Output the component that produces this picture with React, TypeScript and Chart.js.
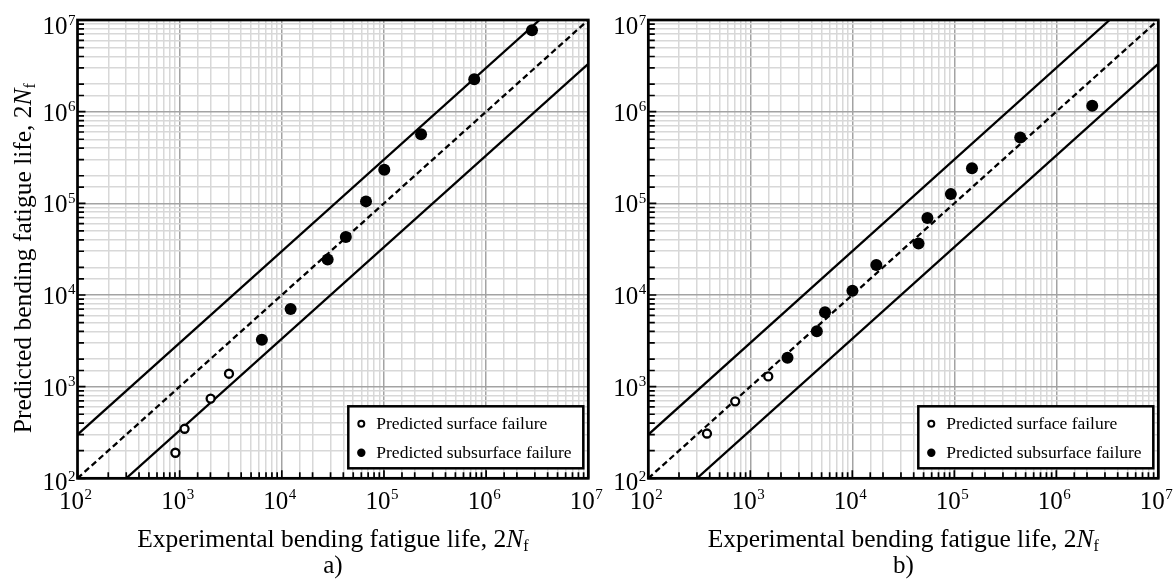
import React, { useEffect, useRef } from "react";
import { Chart, registerables } from "chart.js";

Chart.register(...registerables);

// ---------- axis / reference lines ----------
const AXIS_MIN = 1e2;
const AXIS_MAX = 1e7;
const BAND_FACTOR = 3;
const DECADES = [1e2, 1e3, 1e4, 1e5, 1e6, 1e7];
const DECADE_EXPONENTS = ["2", "3", "4", "5", "6", "7"];

// ---------- text ----------
const SERIES_LABELS = ["Predicted surface failure", "Predicted subsurface failure"];
const X_TITLE_MAIN = "Experimental bending fatigue life, 2";
const Y_TITLE_MAIN = "Predicted bending fatigue life, 2";
const TITLE_ITALIC = "N";
const TITLE_SUB = "f";
const PANEL_TAGS = ["a)", "b)"];

// ---------- panel a) data ----------
const A_SURFACE_X = [908, 1117, 2010, 3040];
const A_SURFACE_Y = [190, 347, 741, 1383];
const A_SUB_X = [6380, 12190, 28100, 42300, 66700, 100700, 230700, 765000, 2810000];
const A_SUB_Y = [3243, 7050, 24400, 43000, 105000, 232000, 566000, 2260000, 7730000];

// ---------- panel b) data ----------
const B_SURFACE_X = [376, 711, 1500];
const B_SURFACE_Y = [308, 692, 1294];
const B_SUB_X = [2316, 4490, 5400, 10030, 17200, 44600, 54500, 92500, 149000, 443000, 2250000];
const B_SUB_Y = [2066, 4030, 6490, 11140, 21200, 36500, 69200, 126000, 242000, 521000, 1160000];

const FONT = '"Liberation Serif", "Times New Roman", Times, serif';
const MAJOR_GRID = "#a3a3a3";
const MINOR_GRID = "#d8d8d8";

const isDecade = (v: number) => Math.abs(Math.log10(v) - Math.round(Math.log10(v))) < 1e-9;
const pts = (xs: number[], ys: number[]) => xs.map((x, i) => ({ x, y: ys[i] }));

function drawPow(ctx: CanvasRenderingContext2D, exp: string, x: number, baseline: number, align: "center" | "right") {
  ctx.font = `25px ${FONT}`;
  const wb = ctx.measureText("10").width;
  ctx.font = `15px ${FONT}`;
  const we = ctx.measureText(exp).width;
  const total = wb + we + 0.5;
  const left = align === "center" ? x - total / 2 : x - total;
  ctx.textAlign = "left";
  ctx.textBaseline = "alphabetic";
  ctx.font = `25px ${FONT}`;
  ctx.fillText("10", left, baseline);
  ctx.font = `15px ${FONT}`;
  ctx.fillText(exp, left + wb + 0.5, baseline - 9.5);
}

function drawTitle(ctx: CanvasRenderingContext2D, main: string, cx: number, baseline: number) {
  ctx.textAlign = "left";
  ctx.textBaseline = "alphabetic";
  const fMain = `25.5px ${FONT}`;
  const fIt = `italic 25.5px ${FONT}`;
  const fSub = `16px ${FONT}`;
  ctx.font = fMain;
  const w1 = ctx.measureText(main).width;
  ctx.font = fIt;
  const w2 = ctx.measureText(TITLE_ITALIC).width;
  ctx.font = fSub;
  const w3 = ctx.measureText(TITLE_SUB).width;
  const left = cx - (w1 + w2 + w3) / 2;
  ctx.font = fMain;
  ctx.fillText(main, left, baseline);
  ctx.font = fIt;
  ctx.fillText(TITLE_ITALIC, left + w1, baseline);
  ctx.font = fSub;
  ctx.fillText(TITLE_SUB, left + w1 + w2, baseline + 4);
}

function makeDecor(showYTitle: boolean, tag: string) {
  return {
    id: "decor",
    afterDatasetsDraw(chart: any) {
      const { ctx, chartArea: a, scales } = chart;
      const sx = scales.x;
      const sy = scales.y;
      ctx.save();
      ctx.strokeStyle = "#000";
      ctx.fillStyle = "#000";
      // inner ticks
      ctx.lineWidth = 1.7;
      ctx.beginPath();
      for (const t of sx.ticks) {
        const px = sx.getPixelForValue(t.value);
        const len = isDecade(t.value) ? 8 : 6;
        ctx.moveTo(px, a.bottom);
        ctx.lineTo(px, a.bottom - len);
      }
      for (const t of sy.ticks) {
        const py = sy.getPixelForValue(t.value);
        const len = isDecade(t.value) ? 8 : 6.5;
        ctx.moveTo(a.left, py);
        ctx.lineTo(a.left + len, py);
      }
      ctx.stroke();
      // frame
      ctx.lineWidth = 2.7;
      ctx.strokeRect(a.left, a.top, a.right - a.left, a.bottom - a.top);

      // legend
      const ds = chart.data.datasets;
      const lw = 235;
      const lh = 62;
      const lx = a.right - 5 - lw;
      const ly = a.bottom - 10 - lh;
      ctx.fillStyle = "#fff";
      ctx.fillRect(lx, ly, lw, lh);
      ctx.lineWidth = 2.5;
      ctx.strokeStyle = "#000";
      ctx.strokeRect(lx, ly, lw, lh);
      const rows = [ds[0], ds[1]];
      rows.forEach((d: any, i: number) => {
        const cy = ly + 17.5 + i * 29;
        ctx.beginPath();
        if (i === 0) {
          ctx.arc(lx + 13, cy, 3, 0, Math.PI * 2);
          ctx.fillStyle = "#fff";
          ctx.fill();
          ctx.lineWidth = 2;
          ctx.strokeStyle = "#000";
          ctx.stroke();
        } else {
          ctx.arc(lx + 13, cy, 4.2, 0, Math.PI * 2);
          ctx.fillStyle = "#000";
          ctx.fill();
        }
        ctx.fillStyle = "#000";
        ctx.font = `17.5px ${FONT}`;
        ctx.textAlign = "left";
        ctx.textBaseline = "alphabetic";
        ctx.fillText(d.label, lx + 28, cy + 5.5);
      });

      // tick labels
      ctx.fillStyle = "#000";
      DECADES.forEach((v, i) => {
        const px = sx.getPixelForValue(v);
        drawPow(ctx, DECADE_EXPONENTS[i], px - 2, a.bottom + 30.5, "center");
        const py = sy.getPixelForValue(v);
        const off = i === DECADES.length - 1 ? 14 : i === 0 ? 12 : 9;
        drawPow(ctx, DECADE_EXPONENTS[i], a.left - 2, py + off, "right");
      });

      // titles
      const cx = (a.left + a.right) / 2;
      drawTitle(ctx, X_TITLE_MAIN, cx, 547);
      if (showYTitle) {
        ctx.save();
        ctx.translate(31, (a.top + a.bottom) / 2 + 9);
        ctx.rotate(-Math.PI / 2);
        drawTitle(ctx, Y_TITLE_MAIN, 0, 0);
        ctx.restore();
      }
      ctx.font = `25px ${FONT}`;
      ctx.textAlign = "center";
      ctx.fillStyle = "#000";
      ctx.fillText(tag, cx, 573);
      ctx.restore();
    },
  };
}

function buildConfig(
  surfX: number[],
  surfY: number[],
  subX: number[],
  subY: number[],
  padding: any,
  showYTitle: boolean,
  tag: string
): any {
  const lineDs = (data: any[], dash: number[]) => ({
    type: "scatter",
    label: "",
    data,
    showLine: true,
    borderColor: "#000",
    borderWidth: 2.3,
    borderDash: dash,
    pointRadius: 0,
    fill: false,
  });
  const gridColor = (c: any) => (c.tick && isDecade(c.tick.value) ? MAJOR_GRID : MINOR_GRID);
  return {
    type: "scatter",
    data: {
      datasets: [
        {
          label: SERIES_LABELS[0],
          data: pts(surfX, surfY),
          pointRadius: 4,
          pointBorderWidth: 2.3,
          backgroundColor: "#fff",
          borderColor: "#000",
          order: 0,
        },
        {
          label: SERIES_LABELS[1],
          data: pts(subX, subY),
          pointRadius: 6,
          pointBorderWidth: 0,
          backgroundColor: "#000",
          borderColor: "#000",
          order: 1,
        },
        { ...lineDs([{ x: AXIS_MIN, y: AXIS_MIN }, { x: AXIS_MAX, y: AXIS_MAX }], [6, 3.5]), order: 2 },
        { ...lineDs([{ x: AXIS_MIN, y: AXIS_MIN * BAND_FACTOR }, { x: AXIS_MAX / BAND_FACTOR, y: AXIS_MAX }], []), order: 3 },
        { ...lineDs([{ x: AXIS_MIN * BAND_FACTOR, y: AXIS_MIN }, { x: AXIS_MAX, y: AXIS_MAX / BAND_FACTOR }], []), order: 4 },
      ],
    },
    options: {
      animation: false,
      responsive: false,
      devicePixelRatio: 1,
      layout: { padding },
      plugins: { legend: { display: false }, tooltip: { enabled: false } },
      scales: {
        x: {
          type: "logarithmic",
          min: AXIS_MIN,
          max: AXIS_MAX,
          ticks: { display: false, autoSkip: false },
          grid: { drawTicks: false, color: gridColor, lineWidth: 1.5 },
          border: { display: false },
          afterFit: (s: any) => {
            s.height = 0;
          },
        },
        y: {
          type: "logarithmic",
          min: AXIS_MIN,
          max: AXIS_MAX,
          ticks: { display: false, autoSkip: false },
          grid: { drawTicks: false, color: gridColor, lineWidth: 1.5 },
          border: { display: false },
          afterFit: (s: any) => {
            s.width = 0;
          },
        },
      },
    },
    plugins: [makeDecor(showYTitle, tag)],
  };
}

function Panel(props: {
  width: number;
  left: number;
  surfX: number[];
  surfY: number[];
  subX: number[];
  subY: number[];
  padding: any;
  showYTitle: boolean;
  tag: string;
}) {
  const ref = useRef<HTMLCanvasElement | null>(null);
  useEffect(() => {
    if (!ref.current) return;
    const chart = new Chart(
      ref.current,
      buildConfig(props.surfX, props.surfY, props.subX, props.subY, props.padding, props.showYTitle, props.tag)
    );
    return () => chart.destroy();
  }, []);
  return (
    <canvas
      ref={ref}
      width={props.width}
      height={579}
      style={{ position: "absolute", left: props.left, top: 0, width: props.width, height: 579 }}
    />
  );
}

export default function App() {
  return (
    <div style={{ position: "absolute", left: 0, top: 0, width: 1173, height: 579, background: "#fff", overflow: "hidden" }}>
      <Panel
        width={610}
        left={0}
        surfX={A_SURFACE_X}
        surfY={A_SURFACE_Y}
        subX={A_SUB_X}
        subY={A_SUB_Y}
        padding={{ left: 77.5, right: 21.7, top: 20, bottom: 100.7 }}
        showYTitle={true}
        tag={PANEL_TAGS[0]}
      />
      <Panel
        width={578}
        left={595}
        surfX={B_SURFACE_X}
        surfY={B_SURFACE_Y}
        subX={B_SUB_X}
        subY={B_SUB_Y}
        padding={{ left: 53.3, right: 14.7, top: 20, bottom: 100.7 }}
        showYTitle={false}
        tag={PANEL_TAGS[1]}
      />
    </div>
  );
}
